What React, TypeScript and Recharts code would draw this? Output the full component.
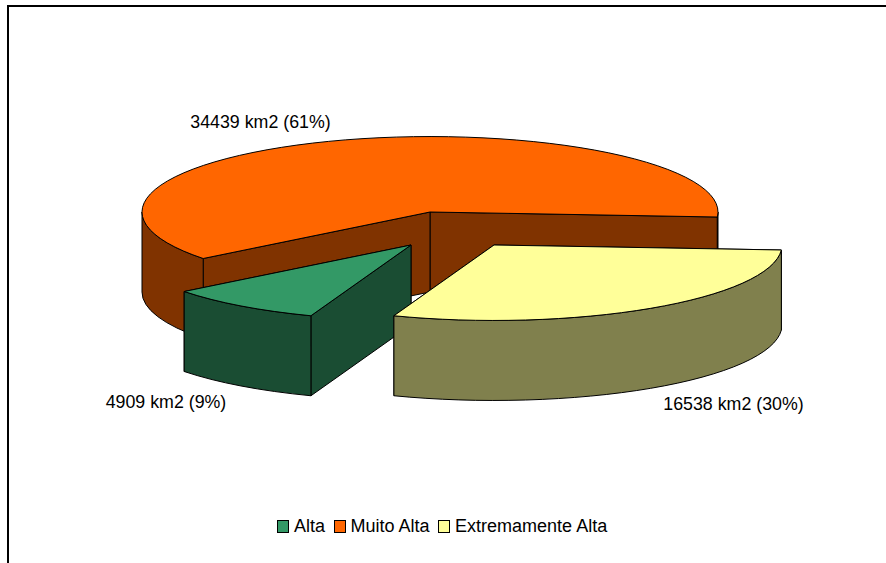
import React from "react";
import { PieChart, Pie, Legend, Cell } from "recharts";

const categories = ["Alta", "Muito Alta", "Extremamente Alta"];
const areas = [4909, 34439, 16538];
const labels = ["4909 km2 (9%)", "34439 km2 (61%)", "16538 km2 (30%)"];
const topColors = ["#339966", "#FF6600", "#FFFF99"];
const sideColors = ["#1A4D33", "#803300", "#80804D"];
// slices are painted back to front
const drawOrder = [1, 0, 2];
const explodeX = [-19, 0, 64];
const explodeY = [33, 0, 33];
const labelX = [166, 260.5, 733.5];
const labelY = [408, 128, 410];

const rows = drawOrder.map((i) => ({
  name: categories[i],
  value: areas[i],
  label: labels[i],
  top: topColors[i],
  side: sideColors[i],
  ox: explodeX[i],
  oy: explodeY[i],
  lx: labelX[i],
  ly: labelY[i],
}));

const FONT = "'Liberation Sans', Arial, sans-serif";
const SQUASH = 0.262;
const DEPTH = 80;

function Slice3D(props: any) {
  const { cx, cy, outerRadius, startAngle, endAngle, payload } = props;
  const row = payload?.payload ?? payload;
  const rx = outerRadius;
  const ry = outerRadius * SQUASH;
  const x0 = cx + row.ox;
  const y0 = cy + row.oy;
  const pt = (deg: number, d = 0): [number, number] => {
    const a = (deg * Math.PI) / 180;
    return [x0 + rx * Math.cos(a), y0 - ry * Math.sin(a) + d];
  };
  const a1 = Math.min(startAngle, endAngle);
  const a2 = Math.max(startAngle, endAngle);
  const p1 = pt(a1);
  const p2 = pt(a2);
  const large = a2 - a1 > 180 ? 1 : 0;
  const stroke = { stroke: "#000", strokeWidth: 1, strokeLinejoin: "round" as const };

  const face = (p: [number, number]) =>
    `M${x0},${y0} L${p[0]},${p[1]} L${p[0]},${p[1] + DEPTH} L${x0},${y0 + DEPTH} Z`;

  // outer rim: the parts of the arc that lie on the front half (180..360 deg)
  const rims: string[] = [];
  for (const [lo, hi] of [
    [-180, 0],
    [180, 360],
  ]) {
    const s = Math.max(a1, lo);
    const e = Math.min(a2, hi);
    if (e > s) {
      const a = pt(s);
      const b = pt(e);
      rims.push(
        `M${a[0]},${a[1]} A${rx},${ry} 0 0 0 ${b[0]},${b[1]} L${b[0]},${b[1] + DEPTH} A${rx},${ry} 0 0 1 ${a[0]},${a[1] + DEPTH} Z`
      );
    }
  }

  return (
    <g>
      <path d={face(p1)} fill={row.side} {...stroke} />
      <path d={face(p2)} fill={row.side} {...stroke} />
      {rims.map((d) => (
        <path key={d} d={d} fill={row.side} {...stroke} />
      ))}
      <path
        d={`M${x0},${y0} L${p1[0]},${p1[1]} A${rx},${ry} 0 ${large} 0 ${p2[0]},${p2[1]} Z`}
        fill={row.top}
        {...stroke}
      />
    </g>
  );
}

function SliceLabel(props: any) {
  const row = props.payload?.payload ?? props.payload ?? props;
  return (
    <text x={row.lx} y={row.ly} textAnchor="middle" fontFamily={FONT} fontSize={17.8} fill="#000">
      {row.label}
    </text>
  );
}

function LegendBox() {
  return (
    <div
      style={{
        display: "flex",
        alignItems: "center",
        fontFamily: FONT,
        fontSize: 18,
        color: "#000",
        lineHeight: "20px",
      }}
    >
      {categories.map((c, i) => (
        <div key={c} style={{ display: "flex", alignItems: "center", marginRight: 8.5 }}>
          <span
            style={{
              width: 10,
              height: 11,
              background: topColors[i],
              border: "1px solid #000",
              marginRight: 5,
              display: "inline-block",
            }}
          />
          <span>{c}</span>
        </div>
      ))}
    </div>
  );
}

export default function App() {
  return (
    <div style={{ position: "absolute", left: 0, top: 0, width: 886, height: 563, overflow: "hidden", background: "#fff" }}>
      <div
        style={{
          position: "absolute",
          left: 7,
          top: 5,
          width: 879,
          height: 558,
          borderLeft: "2px solid #000",
          borderTop: "2px solid #000",
          boxSizing: "border-box",
        }}
      />
      <div style={{ position: "absolute", left: 0, top: 0 }}>
        <PieChart width={886} height={563} margin={{ top: 0, right: 0, bottom: 0, left: 0 }}>
          <Pie
            data={rows}
            dataKey="value"
            nameKey="name"
            cx={430}
            cy={212}
            innerRadius={0}
            outerRadius={288}
            startAngle={-3.8}
            endAngle={356.2}
            paddingAngle={0}
            stroke="none"
            isAnimationActive={false}
            shape={Slice3D}
            label={SliceLabel}
            labelLine={false}
          >
            {rows.map((r) => (
              <Cell key={r.name} fill={r.top} />
            ))}
          </Pie>
          <Legend
            content={<LegendBox />}
            layout="horizontal"
            wrapperStyle={{ position: "absolute", left: 277, top: 516, width: 400, height: 22 }}
          />
        </PieChart>
      </div>
    </div>
  );
}
